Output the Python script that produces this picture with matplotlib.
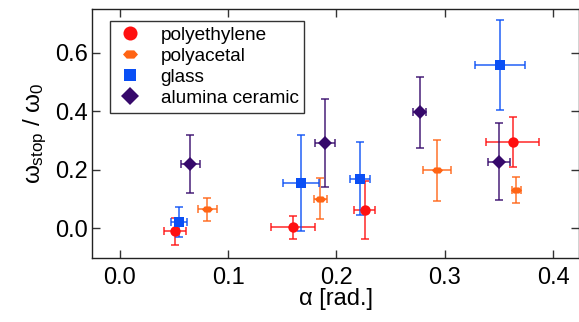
import matplotlib
matplotlib.use("Agg")
import matplotlib.pyplot as plt
from matplotlib.lines import Line2D
import numpy as np

plt.rcParams['font.family'] = ['Liberation Sans', 'DejaVu Sans']
plt.rcParams['mathtext.fontset'] = 'custom'
plt.rcParams['mathtext.rm'] = 'Liberation Sans'
plt.rcParams['mathtext.it'] = 'Liberation Sans'

# polyethylene
pe_x = [0.051, 0.160, 0.226, 0.363]
pe_y = [-0.010, 0.003, 0.064, 0.295]
pe_xerr = [0.0105, 0.020, 0.010, 0.0245]
pe_yerr = [0.046, 0.038, 0.099, 0.085]

# polyacetal
pa_x = [0.081, 0.185, 0.293, 0.366]
pa_y = [0.065, 0.102, 0.199, 0.132]
pa_xerr = [0.009, 0.006, 0.013, 0.004]
pa_yerr = [0.039, 0.070, 0.104, 0.044]

# glass
gl_x = [0.055, 0.167, 0.222, 0.351]
gl_y = [0.021, 0.155, 0.170, 0.558]
gl_xerr = [0.0076, 0.0167, 0.0093, 0.023]
gl_yerr = [0.051, 0.165, 0.125, 0.153]

# alumina ceramic
al_x = [0.065, 0.1895, 0.277, 0.350]
al_y = [0.221, 0.291, 0.397, 0.228]
al_xerr = [0.0088, 0.0095, 0.006, 0.010]
al_yerr = [0.099, 0.151, 0.122, 0.132]

# flattened hexagon for polyacetal
flat_hex = [(-1, 0), (-0.5, 0.55), (0.5, 0.55), (1, 0), (0.5, -0.55), (-0.5, -0.55), (-1, 0)]

series = [
    ("polyethylene", pe_x, pe_y, pe_xerr, pe_yerr, '#ff1010', 'o', 7.5),
    ("polyacetal", pa_x, pa_y, pa_xerr, pa_yerr, '#ff6414', flat_hex, 8),
    ("glass", gl_x, gl_y, gl_xerr, gl_yerr, '#0a4ff5', 's', 6.5),
    ("alumina ceramic", al_x, al_y, al_xerr, al_yerr, '#36096b', 'D', 7),
]

fig = plt.figure(figsize=(5.79, 3.22), dpi=100)
ax = fig.add_axes([0.159, 0.2, 0.841, 0.772])

handles = []
for name, x, y, xe, ye, c, m, ms in series:
    ax.errorbar(x, y, xerr=xe, yerr=ye, fmt='none', ecolor=c,
                elinewidth=1.1, capsize=3.2, capthick=1.1, alpha=0.9)
    ax.plot(x, y, linestyle='none', marker=m, ms=ms, color=c, mew=0, zorder=3)
    handles.append(Line2D([], [], linestyle='none', marker=m, ms=ms * 1.35,
                          color=c, mew=0, label=name))

ax.set_xlim(-0.0255, 0.424)
ax.set_ylim(-0.1, 0.75)
ax.set_xticks([0.0, 0.1, 0.2, 0.3, 0.4])
ax.set_yticks([0.0, 0.2, 0.4, 0.6])
ax.xaxis.set_major_formatter(matplotlib.ticker.FormatStrFormatter('%.1f'))
ax.yaxis.set_major_formatter(matplotlib.ticker.FormatStrFormatter('%.1f'))
ax.tick_params(direction='in', length=5.5, width=1, labelsize=17,
               top=True, right=True, color='#333333')
ax.tick_params(axis='x', pad=7)
ax.tick_params(axis='y', pad=3)
for s in ax.spines.values():
    s.set_linewidth(1)
    s.set_color('#222222')

ax.set_xlabel('α [rad.]', fontsize=17, labelpad=-1)
ax.set_ylabel(r'$\omega_{\rm stop}$ / $\omega_0$', fontsize=17.5, labelpad=4)

leg = ax.legend(handles=handles, loc='upper left', bbox_to_anchor=(0.037, 0.953),
                fontsize=13.7, frameon=True, fancybox=False, edgecolor='black',
                handletextpad=0.85, borderpad=0.3, labelspacing=0.2,
                handlelength=1.5, borderaxespad=0)
leg.get_frame().set_linewidth(1)

fig.savefig('out.png', dpi=100)
